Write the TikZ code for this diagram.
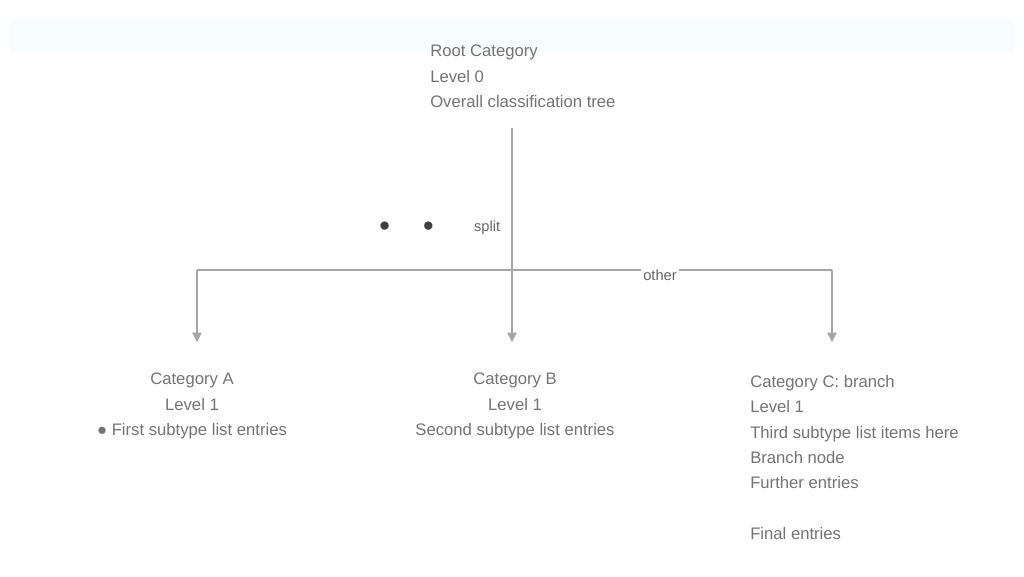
\documentclass[tikz,border=0pt]{standalone}
\usepackage{fontspec}
\setmainfont{Liberation Sans}
\usetikzlibrary{arrows.meta}
\begin{document}
\begin{tikzpicture}[x=0.75pt,y=-0.75pt,
  txt/.style={text=black!55,font=\fontsize{12.5}{19}\selectfont,inner sep=0pt},
  conn/.style={draw=black!35,line width=0.8pt},
  arr/.style={conn,-{Triangle[length=7pt,width=7pt]}},
  lbl/.style={text=black!60,font=\fontsize{11}{13}\selectfont,inner sep=2pt}]
\useasboundingbox (0,0) rectangle (1024,576);
\fill[cyan!3] (10,18) rectangle (1014,52);
% top node
\node[txt,align=left,anchor=north west] (root) at (430,45) {Root Category\\Level 0\\Overall classification tree};
\coordinate (j) at (512,270);
\coordinate (jl) at (197,270);
\coordinate (jr) at (832,270);
\draw[conn] (512,128) -- (j);
\node[lbl,anchor=west] (split) at (376,228) {{\color{black!75}\Large●}\hspace{24pt}{\color{black!75}\Large●}\hspace{30pt}split};
% children
\node[txt,align=center,anchor=north] (a) at (192,373) {Category A\\Level 1\\● First subtype list entries};
\node[txt,align=center,anchor=north] (b) at (515,373) {Category B\\Level 1\\Second subtype list entries};
\node[txt,align=left,anchor=north west] (c) at (750,375) {Category C: branch\\Level 1\\Third subtype list items here\\Branch node\\Further entries\\\\Final entries};
\draw[conn] (jl) -- (jr);
\node[lbl,fill=white] (ml) at (660,275) {other};
\draw[arr] (jl) -- (197,342);
\draw[arr] (j) -- (512,342);
\draw[arr] (jr) -- (832,342);
\end{tikzpicture}
\end{document}
